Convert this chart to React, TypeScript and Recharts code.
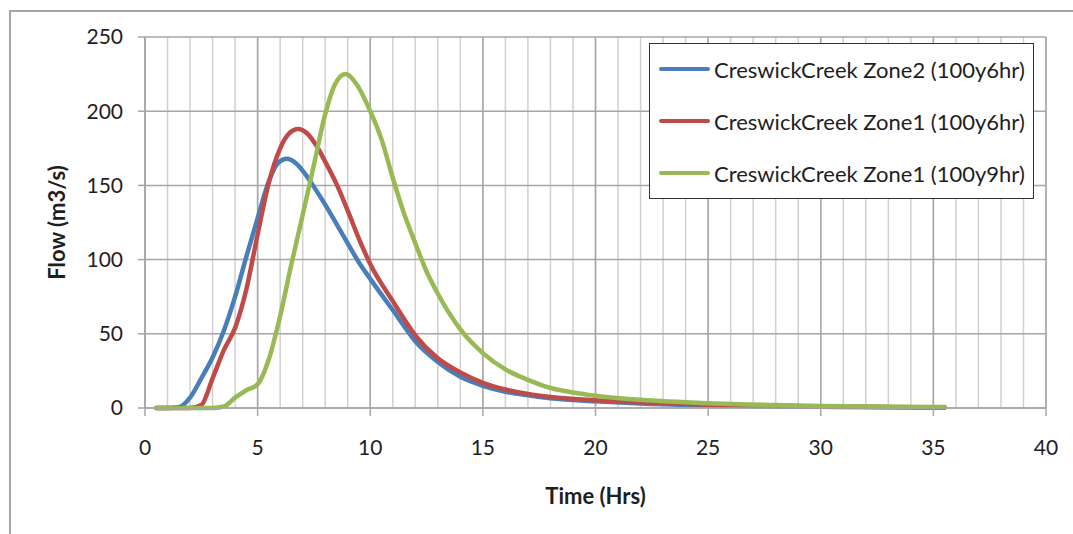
import React from 'react';
import { LineChart, Line, XAxis, YAxis, CartesianGrid, Legend } from 'recharts';

const SERIES_NAMES = [
  'CreswickCreek Zone2 (100y6hr)',
  'CreswickCreek Zone1 (100y6hr)',
  'CreswickCreek Zone1 (100y9hr)',
];
const SERIES_COLORS = ['#4a7ebb', '#be4b48', '#98b954'];

const TIME_Z2_6H = [0.5, 1, 1.5, 2, 2.5, 3, 3.5, 4, 4.5, 5, 5.5, 5.9, 6.3, 6.7, 7.1, 7.5, 8, 8.5, 9, 9.5, 10, 11, 12, 13, 14, 15, 16, 17, 18, 20, 22, 25, 28, 30, 33, 35.5];
const FLOW_Z2_6H = [0, 0, 0.5, 7, 20, 34, 52, 75, 102, 128, 153, 165, 168, 165, 158, 149, 137, 124, 111, 98, 87, 66, 45, 31, 21, 15, 11, 8.5, 6.5, 4.5, 3, 1.8, 1, 0.8, 0.5, 0.3];

const TIME_Z1_6H = [0.5, 1, 2, 2.5, 3, 3.5, 4, 4.5, 5, 5.5, 6, 6.4, 6.8, 7.2, 7.6, 8, 8.5, 9, 9.5, 10, 11, 12, 13, 14, 15, 16, 17, 18, 20, 22, 25, 28, 30, 33, 35.5];
const FLOW_Z1_6H = [0, 0, 0, 2, 20, 39, 54, 80, 117, 152, 175, 185, 188, 185, 177, 166, 151, 133, 114, 97, 72, 49, 33.5, 24, 17, 12.5, 9.5, 7.5, 5.2, 3.8, 2.2, 1.3, 1, 0.6, 0.4];

const TIME_Z1_9H = [0.5, 1, 2, 3, 3.5, 4, 4.5, 5, 5.5, 6, 6.5, 7, 7.5, 8, 8.4, 8.9, 9.4, 10, 10.5, 11, 11.5, 12, 12.5, 13, 14, 15, 16, 17, 18, 19, 20, 22, 25, 28, 30, 33, 35.5];
const FLOW_Z1_9H = [0, 0, 0, 0, 1, 7, 12, 16, 33, 62, 97, 130, 164, 198, 217, 225, 218, 200, 181, 155, 131, 111, 92, 77, 53, 37, 26, 19, 13.5, 10.5, 8.3, 5.5, 3.2, 2, 1.4, 0.9, 0.6];

const X_TICKS = [0, 5, 10, 15, 20, 25, 30, 35, 40];
const X_MINOR_TICKS = Array.from({ length: 41 }, (_, i) => i);
const Y_TICKS = [0, 50, 100, 150, 200, 250];

const X_TITLE = 'Time (Hrs)';
const Y_TITLE = 'Flow (m3/s)';

const toData = (ts: number[], vs: number[]) => ts.map((t, i) => ({ t, v: vs[i] }));
const SERIES_DATA = [
  toData(TIME_Z2_6H, FLOW_Z2_6H),
  toData(TIME_Z1_6H, FLOW_Z1_6H),
  toData(TIME_Z1_9H, FLOW_Z1_9H),
];

const FONT = 'Lato, "Open Sans", sans-serif';
const GRID_MAJOR = '#a6a6a6';
const GRID_MINOR = '#d0d0d0';
const TEXT = '#1e1e1e';

const LegendBox = () => (
  <div
    style={{
      boxSizing: 'border-box',
      width: 385,
      height: 156,
      border: '1.5px solid #333',
      background: '#fff',
      fontFamily: FONT,
      fontSize: 22,
      color: TEXT,
      padding: '0 0 0 9px',
    }}
  >
    {SERIES_NAMES.map((name, i) => (
      <div
        key={i}
        style={{ display: 'flex', alignItems: 'center', height: 52, marginTop: i === 0 ? -1 : 0, whiteSpace: 'nowrap' }}
      >
        <span
          style={{ display: 'inline-block', width: 51, height: 4.5, borderRadius: 3, background: SERIES_COLORS[i], marginRight: 4 }}
        />
        <span>{name}</span>
      </div>
    ))}
  </div>
);

export default function App() {
  return (
    <div style={{ position: 'fixed', left: 0, top: 0, width: 1073, height: 534, overflow: 'hidden', background: '#fff' }}>
      <div
        style={{
          position: 'absolute',
          left: 9,
          top: 10,
          width: 1200,
          height: 700,
          borderLeft: '2px solid #a6a6a6',
          borderTop: '2px solid #a6a6a6',
        }}
      />
      <div style={{ position: 'absolute', left: 8, top: 8 }}>
        <LineChart width={1057} height={518} margin={{ top: 29, right: 19, bottom: 58, left: 0 }}>
          <CartesianGrid xAxisId="minor" horizontal={false} stroke={GRID_MINOR} strokeWidth={1.5} />
          <CartesianGrid stroke={GRID_MAJOR} strokeWidth={1.5} />
          <XAxis
            xAxisId="minor"
            type="number"
            dataKey="t"
            domain={[0, 40]}
            ticks={X_MINOR_TICKS}
            allowDataOverflow
            hide
          />
          <XAxis
            type="number"
            dataKey="t"
            domain={[0, 40]}
            ticks={X_TICKS}
            allowDataOverflow
            height={60}
            tickSize={8}
            tickMargin={24}
            axisLine={{ stroke: GRID_MAJOR, strokeWidth: 1.5 }}
            tickLine={{ stroke: GRID_MAJOR, strokeWidth: 1.5 }}
            tick={{ fill: TEXT, fontSize: 21, fontFamily: FONT }}
            label={{
              content: (p: any) => {
                const vb = p.viewBox;
                return (
                  <text
                    x={vb.x + vb.width / 2}
                    y={vb.y + 96}
                    textAnchor="middle"
                    fill={TEXT}
                    fontFamily={FONT}
                    fontWeight={700}
                    fontSize={22}
                  >
                    {X_TITLE}
                  </text>
                );
              },
            }}
          />
          <YAxis
            type="number"
            domain={[0, 250]}
            ticks={Y_TICKS}
            width={137}
            tickSize={7}
            tickMargin={15}
            axisLine={{ stroke: GRID_MAJOR, strokeWidth: 1.5 }}
            tickLine={{ stroke: GRID_MAJOR, strokeWidth: 1.5 }}
            tick={{ fill: TEXT, fontSize: 21, fontFamily: FONT }}
            label={{
              content: (p: any) => {
                const vb = p.viewBox;
                const cx = 48;
                const cy = vb.y + vb.height / 2;
                return (
                  <text
                    x={cx}
                    y={cy}
                    transform={`rotate(-90, ${cx}, ${cy})`}
                    textAnchor="middle"
                    dominantBaseline="central"
                    fill={TEXT}
                    fontFamily={FONT}
                    fontWeight={700}
                    fontSize={22}
                  >
                    {Y_TITLE}
                  </text>
                );
              },
            }}
          />
          <Legend
            layout="horizontal"
            verticalAlign="middle"
            align="center"
            content={<LegendBox />}
            wrapperStyle={{ position: 'absolute', left: 641, top: 35, width: 385, height: 156 }}
          />
          {SERIES_DATA.map((d, i) => (
            <Line
              key={i}
              data={d}
              dataKey="v"
              name={SERIES_NAMES[i]}
              type="monotone"
              stroke={SERIES_COLORS[i]}
              strokeWidth={4.5}
              strokeLinecap="round"
              dot={false}
              activeDot={false}
              isAnimationActive={false}
            />
          ))}
        </LineChart>
      </div>
    </div>
  );
}
